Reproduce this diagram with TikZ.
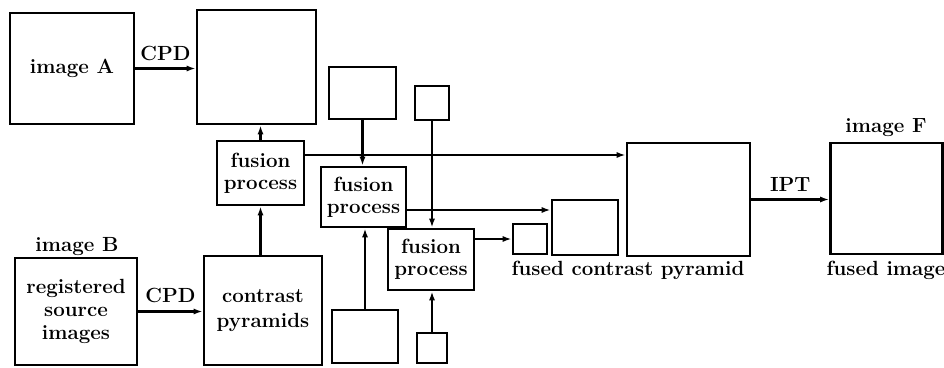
\documentclass[tikz,border=0pt]{standalone}
\usetikzlibrary{arrows.meta,calc}
\begin{document}
\begin{tikzpicture}[x=1pt,y=-1pt,
  box/.style={draw,line width=2.6pt,inner sep=0pt,align=center},
  conn/.style={line width=2.2pt,-{Latex[length=9pt,width=6pt]}},
  lbl/.style={inner sep=0pt,align=center},
  every node/.style={font=\fontsize{20.5}{22}\selectfont\bfseries}]
\useasboundingbox (0,0) rectangle (944,367);
% boxes
\node[box,minimum width=124,minimum height=111] (imgA) at (72,68.5) {image A};
\node[box,minimum width=119,minimum height=114] (pyrA) at (256.5,67) {};
\node[box,minimum width=87,minimum height=64] (fus1) at (260.5,173) {fusion\\process};
\node[box,minimum width=122,minimum height=107] (imgB) at (76,311.5) {registered\\[1pt]source\\[1pt]images};
\node[box,minimum width=118,minimum height=109] (pyrB) at (263,310.5) {contrast\\[3pt]pyramids};
\node[box,minimum width=67,minimum height=52] (topM) at (362.5,93) {};
\node[box,minimum width=34,minimum height=34] (topS) at (432,103) {};
\node[box,minimum width=85,minimum height=60] (fus2) at (363.5,197) {fusion\\process};
\node[box,minimum width=86,minimum height=61] (fus3) at (431,259.5) {fusion\\process};
\node[box,minimum width=66,minimum height=55] (midM) at (585,227.5) {};
\node[box,minimum width=34,minimum height=30] (midS) at (530,239) {};
\node[box,minimum width=66,minimum height=53] (botM) at (365,336.5) {};
\node[box,minimum width=30,minimum height=30] (botS) at (432,348) {};
\node[box,minimum width=123,minimum height=113] (bigF) at (688.5,199.5) {};
\node[box,minimum width=112,minimum height=111] (imgF) at (886.5,198.5) {};
% labels
\node[lbl] (lB) at (77,247) {image B};
\node[lbl] (lF) at (886,128) {image F};
\node[lbl] (lFI) at (886,270) {fused image};
\node[lbl] (lFCP) at (628,270) {fused contrast pyramid};
% connectors
\draw[conn] (imgA.east) -- node[lbl,above=7pt] (cpd1) {CPD} (imgA.east -| pyrA.west);
\draw[conn] (imgB.east) -- node[lbl,above=8pt] (cpd2) {CPD} (imgB.east -| pyrB.west);
\draw[conn] (fus1.north) -- (fus1.north |- pyrA.south);
\draw[conn] (fus1.south |- pyrB.north) -- (fus1.south);
\draw[conn] ([yshift=18pt]fus1.east) -- ([yshift=18pt]fus1.east -| bigF.west);
\draw[conn] (topM.south) -- (topM.south |- fus2.north);
\draw[conn] (topS.south) -- (topS.south |- fus3.north);
\draw[conn] (botM.north) -- (botM.north |- fus2.south);
\draw[conn] (botS.north) -- (botS.north |- fus3.south);
\draw[conn] ([yshift=-13pt]fus2.east) -- ([yshift=-13pt]fus2.east -| midM.west);
\draw[conn] (midS.west -| fus3.east) -- (midS.west);
\draw[conn] (bigF.east) -- node[lbl,above=7pt] (ipt) {IPT} (bigF.east -| imgF.west);
\end{tikzpicture}
\end{document}
